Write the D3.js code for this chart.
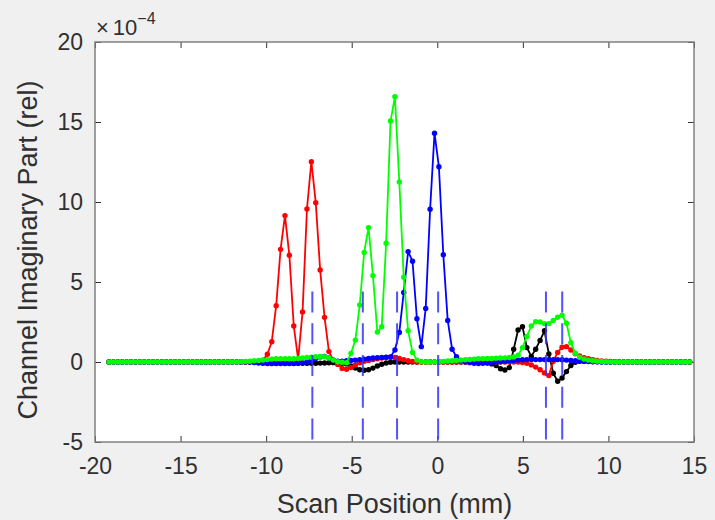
<!DOCTYPE html>
<html>
<head>
<meta charset="utf-8">
<script src="https://cdn.jsdelivr.net/npm/d3@7"></script>
<style>
  body { margin: 0; background: #f0f0f0; }
  svg { display: block; font-family: "Liberation Sans", Arial, sans-serif; }
</style>
</head>
<body>
<div id="chart"></div>
<script>
// scan grid (mm)
const scanStart = -19.18;
const scanStep = 0.257;

// channel imaginary part, units of 1e-4
const redSeries = [
  0, 0, 0, 0, 0, 0, 0, 0, 0, 0,
  0, 0, 0, 0, 0, 0, 0, 0, 0, 0,
  0, 0, 0, 0, 0, 0, 0, 0, 0, 0,
  0, 0, 0.02, 0.03, 0.05, 0.12, 0.48, 1.27, 3.52, 7.04,
  9.15, 6.67, 2.25, 0.17, 3.13, 9.56, 12.52, 9.96, 5.75, 2.79,
  0.65, 0.12, -0.15, -0.4, -0.45, -0.35, -0.18, -0.05, 0.05, 0.1,
  0.15, 0.2, 0.25, 0.28, 0.3, 0.28, 0.22, 0.15, 0.08, 0.03,
  0, 0, 0, 0, 0, 0, 0, 0, 0, 0,
  0, 0, 0, 0, 0, 0, 0, 0, 0, 0,
  0, 0, 0, 0, -0.03, -0.08, -0.18, -0.32, -0.48, -0.68,
  -0.85, 0.05, 0.6, 0.92, 0.96, 0.75, 0.52, 0.38, 0.27, 0.2,
  0.14, 0.1, 0.07, 0.05, 0.03, 0.02, 0.01, 0, 0, 0,
  0, 0, 0, 0, 0, 0, 0, 0, 0, 0,
  0, 0, 0
];

const blackSeries = [
  0, 0, 0, 0, 0, 0, 0, 0, 0, 0,
  0, 0, 0, 0, 0, 0, 0, 0, 0, 0,
  0, 0, 0, 0, 0, 0, 0, 0, 0, 0,
  0, 0, 0, 0, -0.02, -0.04, -0.06, -0.08, -0.08, -0.08,
  -0.08, -0.08, -0.08, -0.08, -0.08, -0.08, -0.08, -0.08, -0.07, -0.06,
  -0.05, -0.04, -0.05, -0.08, -0.12, -0.25, -0.38, -0.48, -0.52, -0.48,
  -0.38, -0.25, -0.14, -0.06, -0.02, 0, 0, 0, 0, 0,
  0, 0, 0, 0, 0, 0, 0, 0, 0, 0,
  0, 0, 0, 0, 0, -0.03, -0.06, -0.12, -0.22, -0.42,
  -0.5, -0.35, 0.8, 2.0, 2.2, 0.9, 0.35, 0.8, 1.35, 1.95,
  0.5, -0.7, -1.2, -1.0, -0.6, -0.22, -0.02, 0.05, 0.05, 0.04,
  0.03, 0.02, 0.01, 0, 0, 0, 0, 0, 0, 0,
  0, 0, 0, 0, 0, 0, 0, 0, 0, 0,
  0, 0, 0
];

const blueSeries = [
  0, 0, 0, 0, 0, 0, 0, 0, 0, 0,
  0, 0, 0, 0, 0, 0, 0, 0, 0, 0,
  0, 0, 0, 0, 0, 0, 0, 0, 0, 0,
  0, 0, 0, -0.03, -0.06, -0.08, -0.1, -0.1, -0.1, -0.1,
  -0.1, -0.1, -0.1, -0.08, -0.05, 0, 0.1, 0.22, 0.32, 0.35,
  0.25, 0.12, 0.05, 0.05, 0.08, 0.1, 0.12, 0.15, 0.18, 0.22,
  0.25, 0.27, 0.28, 0.3, 0.32, 0.75, 1.85, 4.35, 6.9, 6.3,
  2.7, 0.96, 3.35, 9.55, 14.3, 12.2, 6.7, 2.6, 0.8, 0.33,
  0.1, 0.02, -0.04, -0.08, -0.1, -0.08, -0.05, -0.02, 0, 0.02,
  0.05, 0.08, 0.1, 0.12, 0.14, 0.15, 0.15, 0.15, 0.15, 0.15,
  0.15, 0.15, 0.15, 0.14, 0.12, 0.1, 0.08, 0.06, 0.04, 0.03,
  0.02, 0.01, 0, 0, 0, 0, 0, 0, 0, 0,
  0, 0, 0, 0, 0, 0, 0, 0, 0, 0,
  0, 0, 0
];

const greenSeries = [
  0, 0, 0, 0, 0, 0, 0, 0, 0, 0,
  0, 0, 0, 0, 0, 0, 0, 0, 0, 0,
  0, 0, 0, 0, 0, 0, 0, 0, 0, 0,
  0.02, 0.03, 0.05, 0.08, 0.1, 0.12, 0.15, 0.18, 0.2, 0.2,
  0.2, 0.2, 0.2, 0.22, 0.25, 0.28, 0.3, 0.33, 0.35, 0.33,
  0.25, 0.12, 0.02, -0.02, -0.05, 0.54, 1.37, 3.56, 6.85, 8.4,
  5.4, 1.87, 2.2, 7.42, 15.06, 16.58, 11.25, 5.3, 1.95, 0.6,
  0.12, 0.02, 0, 0, 0, 0.02, 0.04, 0.06, 0.08, 0.1,
  0.12, 0.14, 0.16, 0.18, 0.2, 0.2, 0.22, 0.22, 0.24, 0.25,
  0.26, 0.28, 0.32, 0.42, 0.9, 1.6, 2.25, 2.52, 2.5, 2.4,
  2.4, 2.6, 2.8, 2.92, 2.42, 1.2, 0.55, 0.3, 0.18, 0.12,
  0.08, 0.05, 0.03, 0.02, 0.01, 0, 0, 0, 0, 0,
  0, 0, 0, 0, 0, 0, 0, 0, 0, 0,
  0, 0, 0
];

// vertical dashed position markers (mm)
const markerPositions = [-7.3, -4.35, -2.35, 0.05, 6.35, 7.3];
const markerTop = 4.4;

const xTicks = [-20, -15, -10, -5, 0, 5, 10, 15];
const yTicks = [-5, 0, 5, 10, 15, 20];

const series = [
  { name: "black", color: "#000000", values: blackSeries },
  { name: "red", color: "#ff0000", values: redSeries },
  { name: "blue", color: "#0000ff", values: blueSeries },
  { name: "green", color: "#00ff00", values: greenSeries }
];

const width = 715;
const height = 520;
const margin = { top: 42, right: 21, bottom: 78, left: 95 };

const x = d3.scaleLinear().domain([-20, 15]).range([margin.left, width - margin.right]);
const y = d3.scaleLinear().domain([-5, 20]).range([height - margin.bottom, margin.top]);

const svg = d3.select("#chart")
  .append("svg")
  .attr("width", width)
  .attr("height", height);

svg.append("rect")
  .attr("width", width)
  .attr("height", height)
  .attr("fill", "#f0f0f0");

// axes background
svg.append("rect")
  .attr("x", x(-20))
  .attr("y", y(20))
  .attr("width", x(15) - x(-20))
  .attr("height", y(-5) - y(20))
  .attr("fill", "#ffffff");

const textColor = "#303030";
const boxColor = "#808080";

const styleAxis = (g) => {
  g.select(".domain").remove();
  g.selectAll(".tick line").attr("stroke", textColor).attr("stroke-width", 1);
  g.selectAll(".tick text").attr("fill", textColor).style("font-size", "23px");
};

svg.append("g")
  .attr("transform", `translate(0,${y(-5)})`)
  .call(d3.axisBottom(x).tickValues(xTicks).tickSize(-6).tickPadding(16).tickFormat(d3.format("d")))
  .call(styleAxis);

svg.append("g")
  .attr("transform", `translate(0,${y(20)})`)
  .call(d3.axisTop(x).tickValues(xTicks).tickSize(-6).tickFormat(""))
  .call(styleAxis);

svg.append("g")
  .attr("transform", `translate(${x(-20)},0)`)
  .call(d3.axisLeft(y).tickValues(yTicks).tickSize(-6).tickPadding(12).tickFormat(d3.format("d")))
  .call(styleAxis);

svg.append("g")
  .attr("transform", `translate(${x(15)},0)`)
  .call(d3.axisRight(y).tickValues(yTicks).tickSize(-6).tickFormat(""))
  .call(styleAxis);

// matlab uses a plain hyphen for negatives
svg.selectAll(".tick text").text(function () {
  return d3.select(this).text().replace("\u2212", "-");
});

const line = d3.line()
  .x((d) => x(d[0]))
  .y((d) => y(d[1]));

const plot = svg.append("g");

series.forEach((s) => {
  const pts = s.values.map((v, i) => [scanStart + i * scanStep, v]);
  const g = plot.append("g").attr("class", s.name);
  g.append("path")
    .datum(pts)
    .attr("fill", "none")
    .attr("stroke", s.color)
    .attr("stroke-width", 1.8)
    .attr("stroke-linejoin", "round")
    .attr("d", line);
  g.selectAll("circle")
    .data(pts)
    .join("circle")
    .attr("cx", (d) => x(d[0]))
    .attr("cy", (d) => y(d[1]))
    .attr("r", 2.7)
    .attr("fill", s.color);
});

// dashed markers
plot.selectAll(".marker")
  .data(markerPositions)
  .join("line")
  .attr("class", "marker")
  .attr("x1", (d) => x(d))
  .attr("x2", (d) => x(d))
  .attr("y1", y(markerTop))
  .attr("y2", y(-5))
  .attr("stroke", "#3434ff")
  .attr("stroke-opacity", 0.85)
  .attr("stroke-width", 2)
  .attr("stroke-dasharray", "21,10.75");

// box
svg.append("rect")
  .attr("x", x(-20))
  .attr("y", y(20))
  .attr("width", x(15) - x(-20))
  .attr("height", y(-5) - y(20))
  .attr("fill", "none")
  .attr("stroke", boxColor)
  .attr("stroke-width", 1.5);

// exponent
const expo = svg.append("text")
  .attr("x", x(-20) + 1)
  .attr("y", 35)
  .attr("fill", textColor)
  .style("font-size", "22px");
expo.append("tspan").text("\u00d7");
expo.append("tspan").attr("dx", 4).text("10");
expo.append("tspan").attr("dy", -11).style("font-size", "16px").text("\u22124");

// labels
svg.append("text")
  .attr("x", (x(-20) + x(15)) / 2)
  .attr("y", 513)
  .attr("text-anchor", "middle")
  .attr("fill", textColor)
  .style("font-size", "27px")
  .text("Scan Position (mm)");

svg.append("text")
  .attr("transform", `translate(37,${(y(-5) + y(20)) / 2 + 8}) rotate(-90)`)
  .attr("text-anchor", "middle")
  .attr("fill", textColor)
  .style("font-size", "27px")
  .text("Channel Imaginary Part (rel)");
</script>
</body>
</html>
